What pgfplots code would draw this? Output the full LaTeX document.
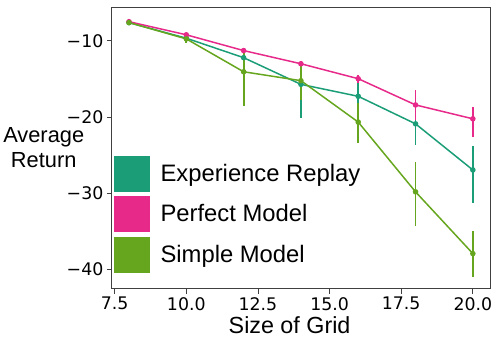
\documentclass[border=0pt]{standalone}
\usepackage{fontspec}
\setmainfont{Liberation Sans}
\newfontfamily\dejavu{DejaVu Sans}
\usepackage{pgfplots}
\usepackage{pgfplotstable}
\pgfplotsset{compat=1.18}

\definecolor{erteal}{HTML}{1B9E77}
\definecolor{pmpink}{HTML}{E7298A}
\definecolor{smgreen}{HTML}{66A61E}

% x, mean, upper error, lower error
\pgfplotstableread{
x   y       ep    em
8   -7.6    0.2   0.2
10  -9.65   0.3   0.3
12  -12.2   0.6   0.7
14  -15.7   2.3   4.4
16  -17.27  2.2   2.1
18  -20.88  2.7   2.8
20  -26.93  3.1   4.35
}\replay
\pgfplotstableread{
x   y       ep    em
8   -7.48   0.2   0.2
10  -9.2    0.3   0.3
12  -11.27  0.3   0.3
14  -13.0   0.4   0.35
16  -14.96  0.55  0.55
18  -18.4   1.9   2.0
20  -20.22  1.5   2.4
}\perfect
\pgfplotstableread{
x   y       ep    em
8   -7.6    0.3   0.3
10  -9.74   0.5   0.6
12  -14.05  3.1   4.5
14  -15.22  2.3   2.5
16  -20.65  2.5   2.8
18  -29.8   3.9   4.5
20  -37.9   2.9   3.1
}\simple

\begin{document}
\begin{tikzpicture}
\begin{axis}[
  name=ax,
  scale only axis,
  width=380bp, height=283bp,
  xmin=7.4, xmax=20.6,
  ymin=-42.5, ymax=-5.55,
  xtick={7.5,10,12.5,15,17.5,20},
  xticklabels={7.5,10.0,12.5,15.0,17.5,20.0},
  ytick={-40,-30,-20,-10},
  yticklabels={−40,−30,−20,−10},
  tick label style={font=\dejavu\fontsize{17.5}{20}\selectfont},
  tick align=outside,
  tick pos=left,
  major tick length=5bp,
  every tick/.style={black!75, line width=0.8bp},
  axis line style={black!75, line width=0.8bp},
  xlabel={Size of Grid},
  xlabel style={font=\fontsize{23.5}{26}\selectfont, at={(axis description cs:0.47,0)}, anchor=base, yshift=-45bp},
  ylabel={Average\\Return},
  ylabel style={font=\fontsize{22}{25}\selectfont, align=center, rotate=-90,
    at={(axis description cs:-0.18,0.5)}, anchor=center},
  legend cell align=left,
  legend image code/.code={\fill[draw=white, line width=0.8bp] (0bp,-18.5bp) rectangle (37bp,18.5bp);},
  legend style={draw=none, fill=none, font=\fontsize{24}{28}\selectfont,
    at={(axis description cs:0,0)}, anchor=south west, xshift=1bp, yshift=15bp,
    row sep=3bp, inner sep=0pt,
    /tikz/every odd column/.append style={column sep=8bp}},
  every axis plot/.append style={line width=1.5bp, mark=*, mark size=2bp},
  error bars/y dir=both, error bars/y explicit, error bars/error mark=none,
]
\addplot[color=erteal, error bars/error bar style={draw=erteal, line width=1.9bp}]
  table[x=x, y=y, y error plus=ep, y error minus=em] {\replay};
\addplot[color=pmpink, error bars/error bar style={draw=pmpink, line width=1.9bp}]
  table[x=x, y=y, y error plus=ep, y error minus=em] {\perfect};
\addplot[color=smgreen, error bars/error bar style={draw=smgreen, line width=1.9bp}]
  table[x=x, y=y, y error plus=ep, y error minus=em] {\simple};
\legend{Experience Replay, Perfect Model, Simple Model}
\end{axis}
\path[use as bounding box] ([xshift=-110bp,yshift=-50bp]ax.south west) rectangle ([xshift=8bp,yshift=7bp]ax.north east);
\end{tikzpicture}
\end{document}
